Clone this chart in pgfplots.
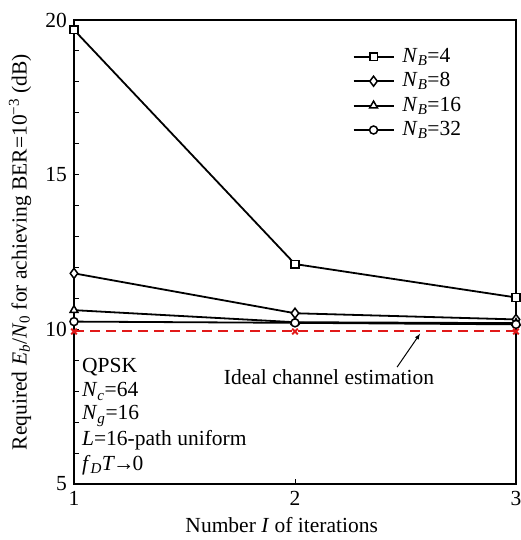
\documentclass[border=0pt]{standalone}
\usepackage{fontspec}
\setmainfont{Liberation Serif}
\usepackage{pgfplots}
\pgfplotsset{compat=1.18}
\definecolor{myred}{RGB}{225,25,25}
\newcommand{\NB}{\textit{N}\textsubscript{\textit{B}}}
\tikzset{bl/.style={black, solid, line width=1.8pt, mark options={solid, fill=white, line width=1.5pt}}}
\begin{document}
\fontsize{21}{25}\selectfont
\begin{tikzpicture}
\begin{axis}[
 at={(0,0)}, anchor=south west,
 scale only axis, width=442pt, height=464pt,
 xmin=1, xmax=3, ymin=5, ymax=20,
 xtick={1,2,3}, ytick={5,10,15,20},
 minor ytick={6,7,8,9,11,12,13,14,16,17,18,19},
 xtick pos=left, ytick pos=left, tick align=inside,
 major tick length=5pt, minor tick length=5pt,
 axis line style={line width=1.4pt},
 every tick/.style={black,line width=1pt},
 font=\fontsize{21.5}{25}\selectfont,
 /pgf/number format/assume math mode=true,
 xlabel={Number \textit{I} of iterations},
 ylabel={Required \textit{E}\textsubscript{\textit{b}}/\textit{N}\textsubscript{0} for achieving BER=10\textsuperscript{−3} (dB)},
 xlabel style={at={(axis description cs:0.47,-0.088)}, anchor=center},
 ylabel style={at={(axis description cs:-0.122,0.5)}, anchor=center},
 legend style={draw=none, fill=none, at={(axis description cs:0.630,0.944)}, anchor=north west,
   font=\fontsize{21.5}{23}\selectfont, row sep=3pt, inner sep=0pt},
 legend cell align=left,
 legend image code/.code={\draw[mark repeat=2,mark phase=2] plot coordinates {(0pt,0pt)(20pt,0pt)(40pt,0pt)}; \path (46pt,0pt);},
 clip=false,
]
\addplot[bl, mark=square*, mark size=3.8pt] coordinates {(1,19.68) (2,12.11) (3,11.03)};
\addlegendentry{\NB=4}
\addplot[bl, mark=diamond*, mark size=5pt] coordinates {(1,11.81) (2,10.52) (3,10.32)};
\addlegendentry{\NB=8}
\addplot[bl, mark=triangle*, mark size=4.5pt] coordinates {(1,10.62) (2,10.23) (3,10.2)};
\addlegendentry{\NB=16}
\addplot[bl, mark=*, mark size=4pt] coordinates {(1,10.25) (2,10.21) (3,10.16)};
\addlegendentry{\NB=32}
\addplot[draw=myred, line width=2pt, dash pattern=on 10pt off 6pt, mark=x, mark size=4pt, mark options={draw=myred, solid, line width=1.8pt}, forget plot] coordinates {(1,9.93) (2,9.93) (3,9.93)};
\node[anchor=west, inner sep=0pt] at (axis cs:1.036,8.78) {QPSK};
\node[anchor=west, inner sep=0pt] at (axis cs:1.036,7.99) {\textit{N}\textsubscript{\textit{c}}=64};
\node[anchor=west, inner sep=0pt] at (axis cs:1.036,7.20) {\textit{N}\textsubscript{\textit{g}}=16};
\node[anchor=west, inner sep=0pt] at (axis cs:1.036,6.41) {\textit{L}=16-path uniform};
\node[anchor=west, inner sep=0pt] at (axis cs:1.036,5.62) {\textit{f}\textsubscript{\textit{D}}\textit{T}\kern-2pt→\kern-2pt0};
\node[anchor=center, inner sep=0pt] at (axis cs:2.154,8.46) {Ideal channel estimation};
\draw[-latex, line width=1pt] (axis cs:2.462,8.78) -- (axis cs:2.566,9.86);
\end{axis}
\pgfresetboundingbox
\path (-74pt,-56pt) rectangle (446pt,484pt);
\end{tikzpicture}
\end{document}
